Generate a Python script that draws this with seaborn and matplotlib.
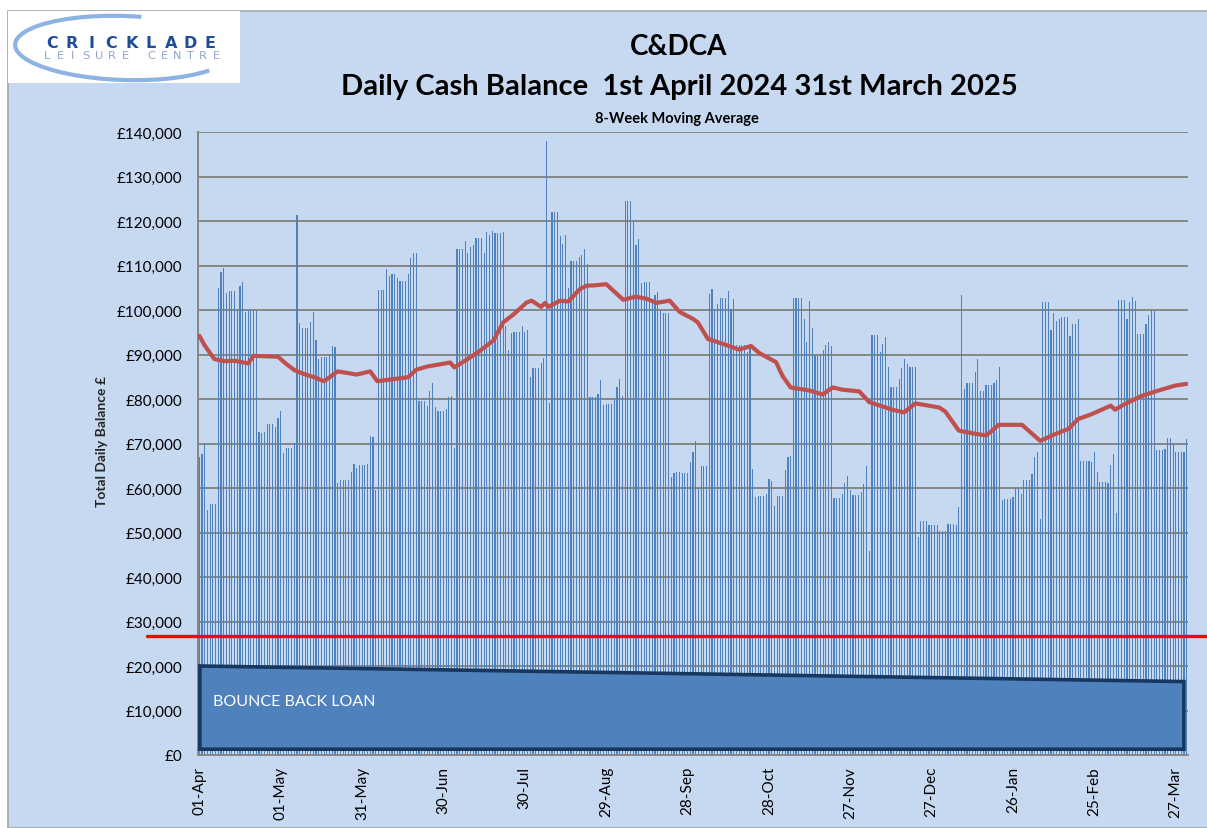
import numpy as np
import pandas as pd
import matplotlib
matplotlib.use("Agg")
import matplotlib.pyplot as plt
from matplotlib.patches import Rectangle, Polygon, Arc
import seaborn as sns

# ---------------- data (values in £000, one per day from 01-Apr-2024) ----------------
apr_may = [66.9, 67.6, 70.0, 55.1, 56.4, 56.4, 56.4, 105.0, 108.6, 109.4, 103.8, 104.3, 104.3, 104.3,
           100.0, 105.5, 106.2, 99.6, 100.1, 100.1, 100.1, 99.8, 72.5, 72.3, 72.5, 74.4, 74.4, 74.4,
           73.6, 75.7, 77.2, 67.9, 69.0, 69.0, 69.0]
may_jun = [70.2, 121.3, 97.1, 95.9, 95.9, 95.9, 97.4, 99.6, 93.3, 89.0, 89.4, 89.4, 89.4, 89.9, 91.8,
           91.6, 61.1, 61.8, 61.8, 61.8, 61.8, 63.7, 65.5, 64.6, 65.2, 65.2, 65.2, 65.4, 71.6, 71.4, 59.6,
           104.6, 104.6, 104.6, 109.2, 107.7, 108.2]
jun_jul = [108.2, 107.1, 106.5, 106.5, 106.5, 108.2, 111.6, 112.8, 112.8, 79.6, 79.6, 79.6, 78.4, 81.7,
           83.7, 78.1, 77.2, 77.2, 77.2, 77.8, 80.5, 80.6, 69.1, 113.7, 113.7, 113.7, 115.4, 112.8, 114.1,
           114.5, 116.1, 116.1, 116.1, 112.8, 117.5, 116.9, 117.8]
jul_aug = [117.2, 117.2, 117.2, 117.5, 96.3, 91.1, 94.8, 95.1, 95.1, 95.1, 96.5, 95.1, 95.4, 84.9, 87.0,
           87.0, 87.0, 88.2, 89.3, 138.0, 79.1, 122.1, 122.1, 122.1, 116.7, 114.8, 116.9, 105.0, 111.0,
           111.0, 111.0, 111.8, 112.4, 113.7, 110.3, 80.4, 80.4]
aug_sep = [80.4, 81.2, 84.3, 78.7, 78.9, 78.9, 78.9, 79.8, 82.8, 84.5, 80.7, 124.5, 124.5, 124.5, 120.0,
           114.6, 116.0, 106.0, 106.4, 106.4, 106.4, 101.7, 103.4, 104.0, 99.9, 99.3, 99.3, 99.3, 62.4,
           63.4, 63.7, 63.7, 63.4, 63.4, 63.4, 65.9]
sep_oct = [68.2, 70.5, 59.9, 65.0, 65.0, 65.0, 103.6, 104.7, 100.2, 101.3, 102.6, 102.6, 102.6, 104.3,
           100.2, 102.5, 92.1, 92.1, 92.1, 92.1, 90.6, 92.1, 64.3, 57.9, 58.3, 58.3, 58.3, 58.7, 62.0,
           61.5, 55.9, 58.3, 58.3, 58.3, 64.1, 66.9, 67.3]
nov_dec = [102.6, 102.6, 102.6, 102.6, 98.0, 92.8, 102.1, 95.9, 89.9, 89.9, 89.9, 90.9, 92.1, 92.7, 91.8,
           57.8, 57.8, 57.8, 58.7, 61.1, 62.6, 59.6, 58.4, 58.4, 58.4, 59.2, 60.9, 64.9, 45.9, 94.3, 94.3,
           94.3, 90.5, 92.4, 93.9, 87.1, 82.6]
dec_jan = [82.6, 82.6, 84.6, 86.9, 88.9, 87.8, 87.1, 87.1, 87.1, 49.0, 52.5, 52.5, 52.5, 51.7, 51.7, 51.7,
           51.7, 50.3, 50.3, 50.4, 51.9, 51.9, 51.8, 51.7, 55.8, 103.4, 82.3, 83.6, 83.6, 83.6, 86.0, 88.9,
           81.8, 81.8, 83.1, 83.1, 83.1]
jan_feb = [83.7, 84.3, 87.3, 57.2, 57.5, 57.5, 57.5, 57.9, 60.1, 60.1, 58.7, 61.8, 61.8, 61.8, 63.1, 66.9,
           68.0, 53.0, 101.7, 101.7, 101.7, 95.4, 99.3, 97.6, 98.0, 98.4, 98.4, 98.4, 94.1, 96.9, 96.9,
           97.9, 66.0, 66.0, 66.0, 66.0, 65.9]
feb_mar = [68.2, 63.7, 61.4, 61.4, 61.4, 61.1, 65.2, 67.6, 54.4, 102.3, 102.3, 102.3, 98.0, 101.9, 102.9,
           102.0, 94.7, 94.7, 94.7, 96.9, 98.8, 100.1, 99.7, 68.5, 68.5, 68.5, 68.8, 71.2, 71.2, 69.9,
           68.2, 68.2, 68.2, 68.2, 71.0]

# 8-week moving average, read at points along the line (day index, £000)
ma_day = [0, 2, 5.5, 9, 13, 18, 20, 24, 29, 32, 35, 38.6, 42.3, 46, 51, 58, 63, 65.6, 72, 77, 80, 84,
          92.5, 94, 100, 103.6, 108.5, 112, 116, 120.7, 122.5, 126, 127.5, 128.7, 133, 136, 140.3, 143,
          145, 150, 156.3, 161, 165, 168.5, 173.4, 177, 182, 183.8, 187.5, 193, 199, 203.4, 206.5, 212.6,
          215, 218, 225, 229.8, 233.5, 237, 243.3, 247, 255.5, 259.8, 264, 268, 272.7, 275, 280, 285,
          290, 292.3, 294.7, 303.3, 310, 315.5, 320.5, 324, 329, 336, 337.6, 341.3, 347.4, 353.6, 359.7,
          364]
ma_k = [94.2, 92.0, 89.0, 88.5, 88.6, 88.0, 89.7, 89.6, 89.5, 87.9, 86.5, 85.6, 84.9, 84.0, 86.2, 85.5,
        86.2, 84.0, 84.5, 84.9, 86.6, 87.3, 88.2, 87.1, 89.4, 90.9, 93.2, 97.2, 99.1, 101.7, 102.1, 100.7,
        101.6, 100.7, 102.1, 101.9, 104.7, 105.5, 105.5, 105.8, 102.3, 103.0, 102.5, 101.6, 102.1, 99.6,
        98.0, 97.2, 93.5, 92.4, 91.1, 91.9, 90.3, 88.3, 85.2, 82.6, 81.9, 81.0, 82.6, 82.1, 81.7, 79.3,
        77.6, 77.0, 79.0, 78.6, 78.1, 77.2, 72.9, 72.3, 71.8, 72.9, 74.2, 74.2, 70.6, 72.1, 73.3, 75.5,
        76.6, 78.5, 77.6, 78.9, 80.7, 81.9, 83.0, 83.4]

tick_days = [0, 30, 60, 90, 120, 150, 180, 210, 240, 270, 300, 330, 360]
tick_labels = ["01-Apr", "01-May", "31-May", "30-Jun", "30-Jul", "29-Aug", "28-Sep",
               "28-Oct", "27-Nov", "27-Dec", "26-Jan", "25-Feb", "27-Mar"]
y_ticks = list(range(0, 140001, 10000))

threshold = 26700           # red line
loan_start, loan_end = 20000, 16500   # bounce back loan (top edge, left -> right)
loan_floor = 1300

balance = np.array(apr_may + may_jun + jun_jul + jul_aug + aug_sep + sep_oct +
                   nov_dec + dec_jan + jan_feb + feb_mar) * 1000
days = np.arange(len(balance))
df = pd.DataFrame({"day": days, "balance": balance})

# ---------------- style ----------------
BG = "#C6D9F1"
GRID = "#868686"
BAR = "#4F81BD"
MA = "#C0504D"

sns.set_theme(style="white")
plt.rcParams["font.family"] = ["Lato", "DejaVu Sans"]

W, H = 1207, 829
fig = plt.figure(figsize=(W / 100, H / 100), dpi=100, facecolor="white")

def fx(x):
    return x / W

def fy(y):
    return 1 - y / H

# outer chart area
fig.add_artist(Rectangle((fx(8), 0), 1 - fx(8) + 0.01, fy(12), transform=fig.transFigure,
                         facecolor=BG, edgecolor="#A6A6A6", linewidth=1.2, zorder=-10))
# logo box
fig.add_artist(Rectangle((fx(8), fy(84)), fx(240) - fx(8), fy(12) - fy(84), transform=fig.transFigure,
                         facecolor="white", edgecolor="none", zorder=-5))
fig.add_artist(Arc((fx(124), fy(49)), fx(218), 64 / H, angle=-3, theta1=72, theta2=342,
                   transform=fig.transFigure, color="#8DB3E2", linewidth=3.0, zorder=-4))
for i, ch in enumerate("CRICKLADE"):
    fig.text(fx(52 + i * 19.8), fy(44), ch, ha="center", va="center", fontsize=11.5,
             fontweight="bold", color="#1F4E96", family=["DejaVu Sans"], zorder=-3)
for i, ch in enumerate("LEISURE CENTRE"):
    fig.text(fx(47 + i * 13.0), fy(56), ch, ha="center", va="center", fontsize=8.2,
             color="#8EA6C6", family=["DejaVu Sans"], zorder=-3)

# titles
fig.text(fx(679), fy(47), "C&DCA", ha="center", va="center", fontsize=20, fontweight="bold", color="black")
fig.text(fx(679), fy(87), "Daily Cash Balance  1st April 2024 31st March 2025", ha="center",
         va="center", fontsize=21, fontweight="bold", color="black")
fig.text(fx(677), fy(119), "8-Week Moving Average", ha="center", va="center", fontsize=10.5,
         fontweight="bold", color="black")

ax = fig.add_axes([fx(198), fy(756), fx(1188) - fx(198), fy(133) - fy(756)])
ax.set_facecolor("none")

sns.barplot(data=df, x="day", y="balance", color=BAR, saturation=1, width=0.42,
            linewidth=0, ax=ax, zorder=2)
sns.lineplot(x=ma_day, y=np.array(ma_k) * 1000, color=MA, linewidth=3.0, ax=ax,
             sort=False, estimator=None, zorder=3)

ax.axhline(threshold, xmin=-0.052, xmax=1.03, color="#FF0000", linewidth=2.4, clip_on=False, zorder=4)

loan = Polygon([(0.2, loan_start), (363, loan_end), (363, loan_floor), (0.2, loan_floor)],
               closed=True, facecolor=BAR, edgecolor="#17375E", linewidth=2.6, zorder=5)
ax.add_patch(loan)
ax.text(5, 12200, "BOUNCE BACK LOAN", color="white", fontsize=11.5, ha="left", va="center", zorder=6)

ax.set_xlim(-0.5, len(balance) - 0.5)
ax.set_ylim(0, 140000)
ax.set_yticks(y_ticks)
ax.set_yticklabels([f"£{v:,}" for v in y_ticks], fontsize=11)
ax.set_xticks(tick_days)
ax.set_xticklabels(tick_labels, rotation=90, fontsize=11)
ax.yaxis.grid(True, color=GRID, linewidth=1.4)
ax.xaxis.grid(False)
ax.set_axisbelow(True)
ax.tick_params(axis="y", length=0, pad=11, colors="black")
ax.tick_params(axis="x", length=0, pad=8, colors="black")
for s in ["top", "right"]:
    ax.spines[s].set_visible(False)
for s in ["left", "bottom"]:
    ax.spines[s].set_color(GRID)
    ax.spines[s].set_linewidth(1.4)
ax.set_xlabel("")
ax.set_ylabel("Total Daily Balance £", fontsize=10, fontweight="bold", labelpad=8)
ax.yaxis.set_label_coords(-0.091, 0.505)

fig.savefig("out.png", dpi=100, facecolor="white")
